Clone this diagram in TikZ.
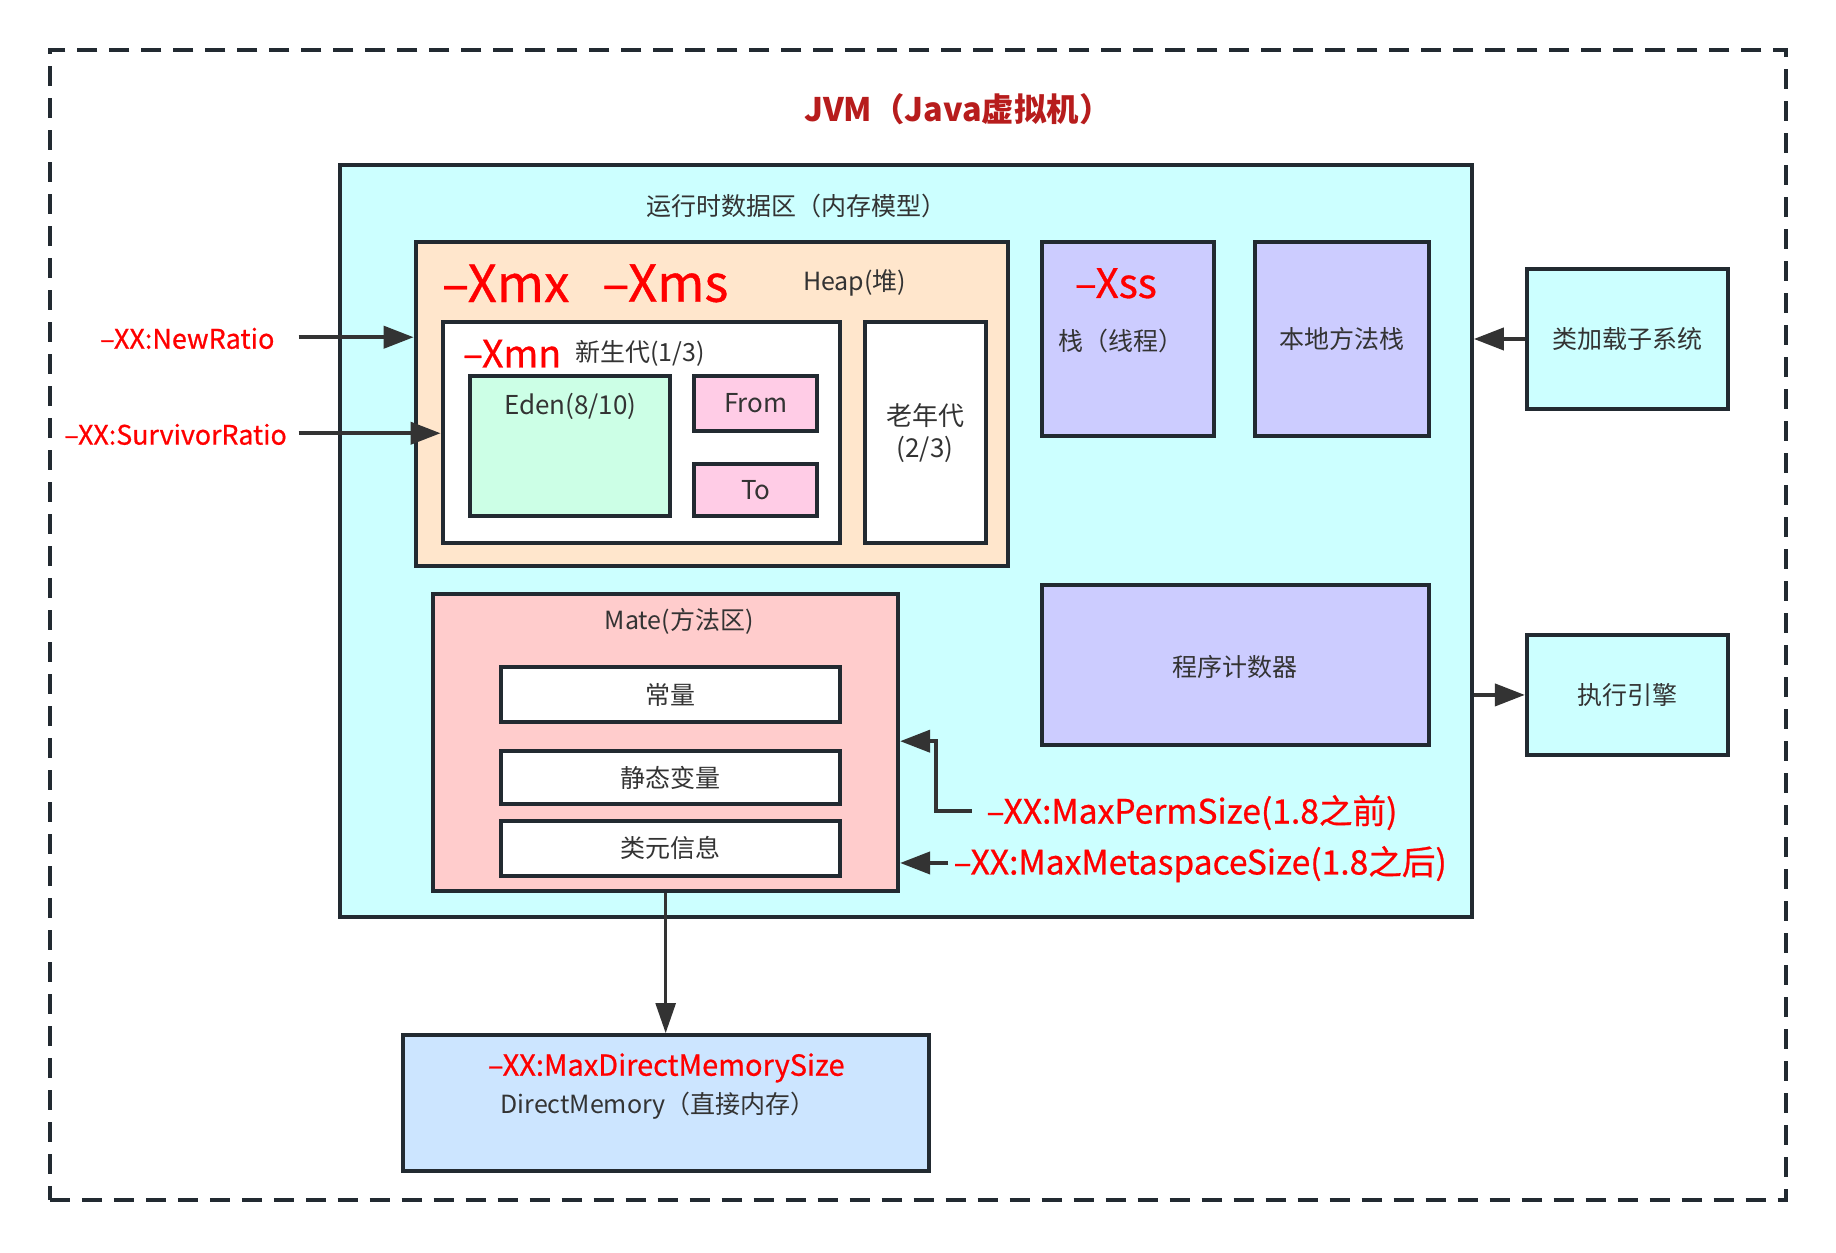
\documentclass[tikz,border=0pt]{standalone}
\usepackage{fontspec}
\setmainfont{Noto Sans CJK SC}
\newfontfamily\redfont[FakeBold=0.7]{Noto Sans CJK SC}
\usetikzlibrary{arrows.meta,fit}
\definecolor{bordc}{HTML}{222A31}
\definecolor{txtc}{HTML}{333333}
\definecolor{redc}{HTML}{FF0000}
\definecolor{titlec}{HTML}{B71C1C}
\definecolor{cyanc}{HTML}{CCFFFF}
\definecolor{heapc}{HTML}{FFE6CC}
\definecolor{edenc}{HTML}{CCFFE6}
\definecolor{pinkc}{HTML}{FFCCE6}
\definecolor{violc}{HTML}{CCCCFF}
\definecolor{matec}{HTML}{FFCCCC}
\definecolor{dirc}{HTML}{CCE5FF}
\definecolor{connc}{HTML}{333333}
\begin{document}
\begin{tikzpicture}[x=0.5855pt,y=-0.5855pt,
  box/.style={draw=bordc, line width=2pt, inner sep=0pt},
  txt/.style={text=txtc, inner sep=0pt, font=\fontsize{12.5}{15}\selectfont},
  redtxt/.style={text=redc, inner sep=0pt},
  conn/.style={draw=connc, line width=2pt, -{Triangle[length=15pt,width=11pt]}},
  thinconn/.style={draw=connc, line width=1.3pt, -{Triangle[length=15pt,width=10pt]}}]
\useasboundingbox (0,0) rectangle (1568,1069.3);
% outer dashed frame
\node[draw=bordc, line width=2pt, dash pattern=on 10pt off 6pt, inner sep=0pt, fit={(42.5,42.5) (1525.5,1025)}] (jvm) {};
\node[text=titlec, inner sep=0pt, font=\fontsize{16.2}{19}\bfseries] (title) at (818,93) {JVM（Java虚拟机）};
% runtime data area
\node[box, fill=cyanc, fit={(290,141) (1257,783)}] (rt) {};
\node[txt] (rtlab) at (680,176) {运行时数据区（内存模型）};
% heap
\node[box, fill=heapc, fit={(355,207) (861,483)}] (heap) {};
\node[redtxt, anchor=west, font=\redfont\fontsize{25.5}{30}\selectfont] (xmx) at (377,242) {–Xmx};
\node[redtxt, anchor=west, font=\redfont\fontsize{25.5}{30}\selectfont] (xms) at (514,242) {–Xms};
\node[txt] (heaplab) at (730,242) {Heap(堆)};
\node[box, fill=white, fit={(378,275) (717,464)}] (young) {};
\node[redtxt, anchor=west, font=\redfont\fontsize{18.8}{22}\selectfont] (xmn) at (395,302) {–Xmn};
\node[txt, anchor=west] (younglab) at (491,302) {新生代(1/3)};
\node[box, fill=edenc, fit={(401,321) (572,441)}] (eden) {};
\node[txt, font=\fontsize{13}{15}\selectfont] (edenlab) at (487,347) {Eden(8/10)};
\node[box, fill=pinkc, fit={(593,321) (698,368)}] (from) {};
\node[txt, font=\fontsize{13}{15}\selectfont] (fromlab) at (from.center) {From};
\node[box, fill=pinkc, fit={(593,396) (698,441)}] (to) {};
\node[txt, font=\fontsize{13}{15}\selectfont] (tolab) at (to.center) {To};
\node[box, fill=white, fit={(739,275) (842,464)}] (old) {};
\node[txt, align=center, font=\fontsize{13}{16}\selectfont] (oldlab) at (790,370) {老年代\\(2/3)};
% stacks
\node[box, fill=violc, fit={(890,207) (1037,372)}] (stack) {};
\node[redtxt, font=\redfont\fontsize{20.3}{24}\selectfont] (xss) at (953,242) {–Xss};
\node[txt] (stacklab) at (957,291) {栈（线程）};
\node[box, fill=violc, fit={(1072,207) (1220,372)}] (native) {};
\node[txt] (nativelab) at (native.center) {本地方法栈};
\node[box, fill=violc, fit={(890,500) (1220,636)}] (pc) {};
\node[txt] (pclab) at (1055,570) {程序计数器};
% method area
\node[box, fill=matec, fit={(370,507) (767,761)}] (mate) {};
\node[txt] (matelab) at (580,531) {Mate(方法区)};
\node[box, fill=white, fit={(428,570) (717,617)}] (const) {};
\node[txt] (constlab) at (const.center) {常量};
\node[box, fill=white, fit={(428,641) (717,687)}] (static) {};
\node[txt] (staticlab) at (static.center) {静态变量};
\node[box, fill=white, fit={(428,701) (717,748)}] (meta) {};
\node[txt] (metalab) at (meta.center) {类元信息};
% outside boxes
\node[box, fill=cyanc, fit={(1304,230) (1476,349)}] (loader) {};
\node[txt] (loaderlab) at (loader.center) {类加载子系统};
\node[box, fill=cyanc, fit={(1304,542) (1476,645)}] (engine) {};
\node[txt] (enginelab) at (engine.center) {执行引擎};
\node[box, fill=dirc, fit={(344,884) (793,1000)}] (direct) {};
\node[redtxt, font=\redfont\fontsize{14.5}{17}\selectfont] (mdms) at (569,912) {–XX:MaxDirectMemorySize};
\node[txt] (directlab) at (562,944) {DirectMemory（直接内存）};
% parameter labels
\node[redtxt, font=\redfont\fontsize{13.5}{16}\selectfont] (newratio) at (160,289) {–XX:NewRatio};
\node[redtxt, font=\redfont\fontsize{13.4}{16}\selectfont] (survivor) at (150,371) {–XX:SurvivorRatio};
\node[redtxt, font=\redfont\fontsize{16.8}{20}\selectfont] (perm) at (1018,694) {–XX:MaxPermSize(1.8之前)};
\node[redtxt, font=\redfont\fontsize{16.8}{20}\selectfont] (metasp) at (1025,738) {–XX:MaxMetaspaceSize(1.8之后)};
\coordinate (nrS) at (255,288);
\coordinate (srS) at (255,370);
\coordinate (pmS) at (830,693);
\coordinate (pmK) at (799,693);
\coordinate (msS) at (810,737);
% connectors
\draw[conn] (nrS) -- (heap.west |- nrS);
\draw[conn] (srS) -- (young.west |- srS);
\draw[conn] (pmS) -- (pmK) |- (mate.east |- 0,633);
\draw[conn] (msS) -- (mate.east |- msS);
\draw[conn] (loader.west) -- (rt.east |- loader.west);
\draw[conn] (rt.east |- engine.west) -- (engine.west);
\draw[thinconn] (mate.south) -- (direct.north);
\end{tikzpicture}
\end{document}
